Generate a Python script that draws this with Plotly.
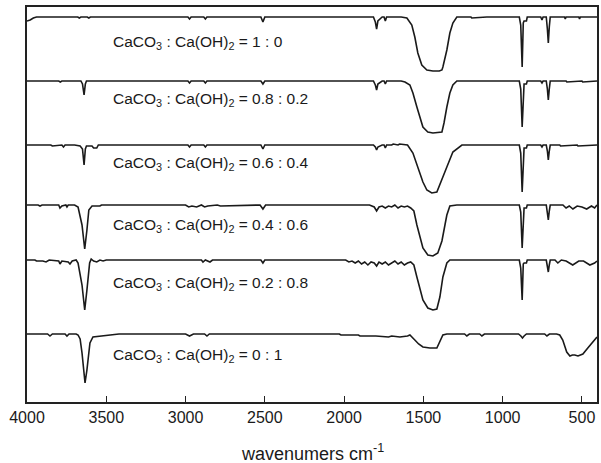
import plotly.graph_objects as go

# wavenumber (cm-1) and signal (relative to each spectrum's baseline)
wn1 = [4000, 3980, 3960, 3940, 3680, 3670, 3660, 3620, 3610, 3600, 2985, 2975, 2965, 2885, 2875, 2865,
       2525, 2512, 2500, 1815, 1803, 1795, 1787, 1760, 1748, 1740, 1732, 1640, 1604, 1573, 1554, 1535,
       1510, 1478, 1440, 1400, 1383, 1377, 1352, 1333, 1314, 1289, 1200, 1195, 1100, 895, 886, 877, 870,
       865, 850, 845, 760, 752, 745, 725, 718, 712, 706, 700, 680, 610, 605, 600, 520, 515, 510, 405]
tr1 = [-4, -3, -1, 0, 0, -1, 0, 0, -1, 0, 0, -2, 0, 0, -2, 0,
       0, -5, 0, 0, -5, -12, -4, 0, 0, -4, 0, 0, -1, -8, -20, -36,
       -48, -53, -54, -54, -53, -50, -33, -16, -6, 0, 0, -1, 0, 0, -8, -50, -6,
       -4, -4, 0, 0, -3, 0, 0, -12, -26, -10, 0, 0, 0, -2, 0, 0, -2, 0, 0]

wn2 = [4000, 3800, 3790, 3780, 3660, 3650, 3640, 3632, 3625, 3600, 2985, 2975, 2965, 2885, 2875, 2865,
       2525, 2512, 2500, 1815, 1803, 1795, 1787, 1760, 1748, 1740, 1732, 1640, 1616, 1585, 1566, 1541,
       1522, 1503, 1472, 1440, 1383, 1370, 1352, 1333, 1314, 1289, 895, 886, 877, 870, 865, 850, 845,
       760, 752, 745, 725, 718, 712, 706, 700, 600, 595, 500, 495, 405]
tr2 = [0, 0, -1, 0, 0, -3, -14, -3, 0, 0, 0, -2, 0, 0, -2, 0,
       0, -3, 0, 0, -4, -9, -3, 0, 0, -3, 0, 0, -1, -4, -12, -26,
       -37, -46, -51, -52, -51, -42, -26, -12, -4, 0, 0, -8, -46, -5, -3, -3, 0,
       0, -2, 0, 0, -8, -19, -8, 0, 0, -1, 0, -1, 0]

wn3 = [4000, 3850, 3840, 3780, 3770, 3760, 3700, 3665, 3650, 3640, 3632, 3625, 3590, 3580, 3560, 3550,
       2985, 2975, 2965, 2885, 2875, 2865, 2525, 2512, 2500, 1815, 1803, 1795, 1787, 1760, 1748, 1740,
       1732, 1700, 1690, 1660, 1650, 1600, 1566, 1535, 1503, 1478, 1447, 1415, 1396, 1352, 1314, 1257,
       895, 886, 877, 870, 865, 850, 845, 760, 752, 745, 725, 718, 712, 706, 700, 640, 635, 530, 525, 405]
tr3 = [0, 0, -1, 0, -2, 0, 0, -1, -4, -20, -4, -1, -1, -3, -3, 0,
       0, -2, 0, 0, -2, 0, 0, -4, 0, 0, -2, -5, -2, 0, 0, -3,
       0, 0, 1, 0, 1, 0, -8, -22, -37, -45, -48, -47, -40, -22, -7, 0,
       0, -8, -47, -6, -3, -3, 0, 0, -2, 0, 0, -6, -15, -6, 0, 0, -1, 0, -1, 0]

wn4 = [4000, 3930, 3918, 3905, 3800, 3792, 3780, 3755, 3748, 3740, 3700, 3690, 3678, 3653, 3636, 3622,
       3610, 3590, 3540, 3530, 3000, 2980, 2960, 2930, 2900, 2880, 2860, 2800, 2780, 2530, 2512, 2495,
       1840, 1810, 1795, 1780, 1760, 1740, 1720, 1700, 1680, 1660, 1640, 1620, 1600, 1580, 1560, 1541,
       1522, 1503, 1472, 1440, 1409, 1383, 1364, 1352, 1333, 1289, 895, 886, 877, 870, 865, 850, 845,
       725, 718, 712, 706, 700, 620, 600, 580, 557, 530, 500, 470, 440, 420, 405]
tr4 = [0, 0, -1, 0, 0, -3, -1, 0, -2, 0, 0, -1, -2, -20, -44, -25,
       -5, -1, -1, 0, 0, -2, -1, -2, 0, -2, -1, 0, -1, 0, -4, 0,
       0, -2, -6, -2, -1, -3, -1, -2, 0, -3, -1, -2, -1, -3, -6, -20,
       -33, -43, -50, -51, -48, -36, -20, -10, -1, 0, 0, -7, -43, -6, -3, -3, 0,
       0, -6, -15, -6, 0, 0, -3, -1, -4, -1, -2, -4, -1, -3, 0]

wn5 = [4000, 3950, 3940, 3900, 3880, 3860, 3800, 3792, 3780, 3740, 3729, 3715, 3690, 3678, 3653, 3636,
       3622, 3605, 3595, 3580, 3560, 3540, 3520, 3500, 2900, 2890, 2875, 2846, 2830, 2525, 2512, 2500,
       1990, 1970, 1950, 1930, 1910, 1890, 1870, 1850, 1830, 1810, 1795, 1780, 1760, 1740, 1720, 1700,
       1680, 1660, 1640, 1620, 1600, 1580, 1560, 1541, 1522, 1503, 1472, 1440, 1415, 1396, 1377, 1352,
       1333, 895, 886, 877, 870, 865, 850, 845, 725, 718, 712, 706, 700, 670, 652, 630, 600, 558, 520,
       490, 450, 420, 405]
tr5 = [0, 0, -1, -1, -2, 0, -1, -4, -1, -2, -4, -1, 0, -3, -25, -50,
       -30, -3, 1, -1, -2, 0, -1, 0, 0, -2, 0, -2, 0, 0, -3, 0,
       0, -2, -1, -3, -1, -4, -2, -5, -2, -3, -6, -2, -4, -2, -5, -3,
       -1, -4, -2, -5, -3, -2, -5, -17, -30, -40, -48, -50, -49, -37, -17, -3,
       0, 0, -8, -40, -4, -3, -3, 0, 0, -6, -12, -5, 0, 0, -3, 0, -1, -5, -1,
       -1, -5, -3, -1]

wn6 = [4000, 3870, 3855, 3840, 3760, 3748, 3735, 3700, 3690, 3678, 3665, 3653, 3640, 3634, 3622, 3603,
       3584, 3540, 3477, 3420, 3000, 2975, 2950, 2880, 2865, 2850, 2030, 2020, 1910, 1900, 1800, 1720,
       1700, 1648, 1600, 1585, 1554, 1530, 1503, 1459, 1415, 1396, 1377, 1352, 1240, 1226, 1210, 1145,
       1131, 1115, 900, 885, 875, 865, 850, 735, 721, 705, 660, 640, 621, 596, 576, 560, 545, 525, 494,
       463, 432, 413, 405]
tr6 = [0, 0, -2, 0, 0, -2, 0, 0, 0, -1, -5, -19, -40, -49, -36, -9,
       -3, -2, -1, 0, 0, -2, 0, 0, -2, 0, 0, -1, -1, -2, -2, -3,
       -2, -3, -2, -1, -6, -10, -13, -14, -14, -8, -1, 0, 0, -2, 0, 0,
       -2, 0, 0, -2, -4, -2, 0, 0, -2, 0, 0, -1, -6, -18, -22, -21, -21, -22, -20,
       -14, -8, -4, -3]

offsets = [385, 321, 257, 197, 142, 68]
ratios = ["1 : 0", "0.8 : 0.2", "0.6 : 0.4", "0.4 : 0.6", "0.2 : 0.8", "0 : 1"]
x_ticks = [4000, 3500, 3000, 2500, 2000, 1500, 1000, 500]

spectra = [(wn1, tr1), (wn2, tr2), (wn3, tr3), (wn4, tr4), (wn5, tr5), (wn6, tr6)]

label_y = [360, 303, 239, 177, 119, 47]

FONT = "Arial, 'Liberation Sans', sans-serif"

fig = go.Figure()
for (wn, tr), off in zip(spectra, offsets):
    fig.add_trace(go.Scatter(
        x=wn, y=[v + off for v in tr], mode="lines",
        line=dict(color="#1a1a1a", width=1.6), showlegend=False, hoverinfo="skip"))

for r, ly in zip(ratios, label_y):
    fig.add_annotation(
        x=3470, y=ly, xref="x", yref="y", xanchor="left", yanchor="middle",
        text=f"CaCO<sub>3</sub> : Ca(OH)<sub>2</sub> = {r}", showarrow=False,
        font=dict(family=FONT, size=15.5, color="#1a1a1a"))

fig.add_annotation(
    x=0.5, y=-0.127, xref="paper", yref="paper", xanchor="center", yanchor="middle",
    text="wavenumers cm<sup>-1</sup>", showarrow=False,
    font=dict(family=FONT, size=18, color="#1a1a1a"))

fig.update_layout(
    width=601, height=463,
    margin=dict(l=27, r=4, t=7, b=61),
    paper_bgcolor="white", plot_bgcolor="white",
    font=dict(family=FONT, color="#1a1a1a"),
    xaxis=dict(range=[4000, 405], tickvals=x_ticks, ticktext=[str(t) for t in x_ticks],
               ticks="inside", ticklen=6, tickwidth=1.2, tickcolor="#222",
               showline=True, linecolor="#222", linewidth=1.5, mirror=True, automargin=False,
               showgrid=False, zeroline=False, tickfont=dict(size=16)),
    yaxis=dict(range=[0, 395], showticklabels=False, ticks="", automargin=False,
               showline=True, linecolor="#222", linewidth=1.5, mirror=True,
               showgrid=False, zeroline=False),
)

fig.write_html("out.html", config={"displayModeBar": False},
               post_script="document.body.style.margin='0';document.body.style.overflow='hidden';")
